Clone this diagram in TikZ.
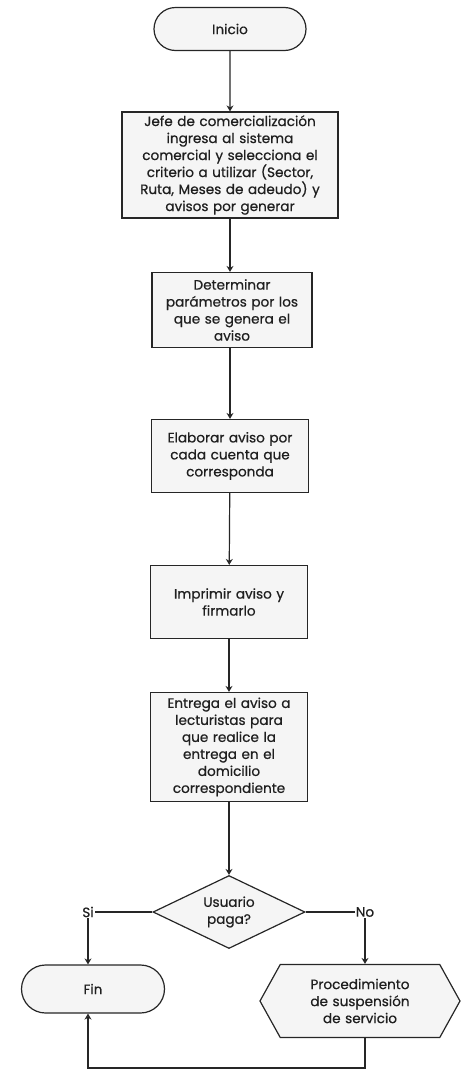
\documentclass[tikz,border=0pt]{standalone}
\usepackage{fontspec}
\setmainfont{Poppins}[BoldFont=Poppins, BoldFeatures={FakeBold=0.6}]
\usetikzlibrary{shapes.misc,shapes.geometric,shapes.symbols,arrows.meta}
\begin{document}
\begin{tikzpicture}[x=1pt,y=-1pt,
  base/.style={draw=black!85, line width=1.2pt, fill=gray!8, text=black!88, font=\fontsize{13.6}{17}\selectfont\bfseries, align=center, inner sep=2pt},
  term/.style={base, shape=rounded rectangle},
  proc/.style={base, shape=rectangle},
  dec/.style={base, shape=diamond, aspect=2, inner sep=0pt},
  disp/.style={base, shape=signal, signal to=west and east, signal pointer angle=122},
  lbl/.style={font=\fontsize{13.6}{15}\selectfont\bfseries, text=black!88, inner sep=1pt},
  conn/.style={draw=black!85, line width=1.2pt},
  arr/.style={conn, -{Stealth[length=6pt,width=7pt,fill=gray!60]}}
]
\useasboundingbox (0,0) rectangle (461,1074);
\node[term, minimum width=156pt, minimum height=43pt] (inicio) at (230,29) {Inicio};
\node[proc, minimum width=216pt, minimum height=106pt, text width=208pt] (b1) at (230,165)
  {Jefe de comercialización\\ingresa al sistema\\comercial y selecciona el\\criterio a utilizar (Sector,\\Ruta, Meses de adeudo) y\\avisos por generar};
\node[proc, minimum width=160pt, minimum height=75pt, text width=152pt] (b2) at (232,310)
  {Determinar\\parámetros por los\\que se genera el\\aviso};
\node[proc, minimum width=157pt, minimum height=73pt, text width=149pt] (b3) at (230,456)
  {Elaborar aviso por\\cada cuenta que\\corresponda};
\node[proc, minimum width=157pt, minimum height=73pt, text width=149pt] (b4) at (229,602)
  {Imprimir aviso y\\firmarlo};
\node[proc, minimum width=157pt, minimum height=109pt, text width=149pt] (b5) at (229,747)
  {Entrega el aviso a\\lecturistas para\\que realice la\\entrega en el\\domicilio\\correspondiente};
\node[dec, minimum width=152pt, minimum height=73pt] (d) at (229,912) {Usuario\\paga?};
\node[lbl] (si) at (88,912) {Si};
\node[lbl] (no) at (365,912) {No};
\node[term, minimum width=147pt, minimum height=48pt] (fin) at (93,989) {Fin};
\node[disp, minimum width=200pt, minimum height=73pt, text width=130pt] (hex) at (360,1001)
  {Procedimiento\\de suspensión\\de servicio};
\coordinate (c1) at (365,1068);
\draw[arr] (inicio) -- (b1);
\draw[arr] (b1) -- (b2.north -| b1.south);
\draw[arr] (b2.south -| b1.south) -- (b3.north -| b1.south);
\draw[arr] (b3) -- (b4);
\draw[arr] (b4) -- (b5);
\draw[arr] (b5) -- (d);
\draw[conn] (d.west) -- (si.east);
\draw[arr] (si.south) -- (si.south |- fin.north);
\draw[conn] (d.east) -- (no.west);
\draw[arr] (no.south) -- (no.south |- hex.north);
\draw[arr] (hex.south -| c1) -- (c1) -| (si.south |- fin.south);
\end{tikzpicture}
\end{document}
